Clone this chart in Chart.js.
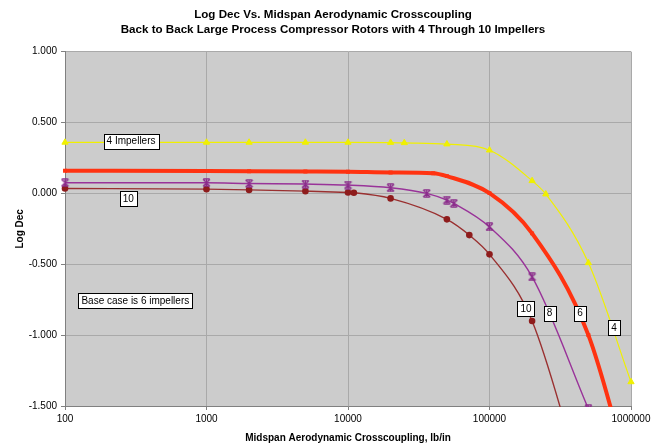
<!DOCTYPE html>
<html>
<head>
<meta charset="utf-8">
<script src="https://cdn.jsdelivr.net/npm/chart.js@4/dist/chart.umd.min.js"></script>
<style>
  html, body { margin: 0; padding: 0; background: #ffffff; }
  #wrap { width: 658px; height: 447px; }
</style>
</head>
<body>
<div id="wrap"><canvas id="c" width="658" height="447"></canvas></div>
<script>
// Log decrement vs. midspan aerodynamic cross-coupling (lb/in), one series per impeller count
const crosscoupling4 = [100, 1000, 2000, 5000, 10000, 20000, 25000, 50000, 100000, 200000, 250000, 500000, 1000000];
const logDec4 = [0.360, 0.360, 0.360, 0.360, 0.360, 0.359, 0.357, 0.348, 0.305, 0.089, -0.005, -0.490, -1.330];

const crosscoupling6 = [100, 1000, 2000, 5000, 10000, 20000, 40000, 50000, 100000, 200000, 500000, 1000000];
const logDec6 = [0.160, 0.158, 0.157, 0.155, 0.153, 0.148, 0.143, 0.122, 0.002, -0.282, -1.000, -2.030];

const crosscoupling8 = [100, 1000, 2000, 5000, 10000, 20000, 36000, 50000, 56000, 100000, 200000, 500000];
const logDec8 = [0.075, 0.075, 0.070, 0.066, 0.059, 0.040, 0.000, -0.047, -0.070, -0.236, -0.589, -1.520];

const crosscoupling10 = [100, 1000, 2000, 5000, 10000, 11000, 20000, 50000, 72000, 100000, 200000, 500000];
const logDec10 = [0.035, 0.030, 0.025, 0.016, 0.007, 0.005, -0.035, -0.183, -0.294, -0.430, -0.900, -2.200];

const xTicks = [100, 1000, 10000, 100000, 1000000];
const yTicks = [1.0, 0.5, 0.0, -0.5, -1.0, -1.5];

const titleLines = [
  'Log Dec Vs. Midspan Aerodynamic Crosscoupling',
  'Back to Back Large Process Compressor Rotors with 4 Through 10 Impellers'
];

// Boxed text notes, anchored in data units (crosscoupling, log dec)
const notes = [
  { text: '4 Impellers', x: 293, y: 0.369 },
  { text: '10', x: 280, y: -0.035 },
  { text: 'Base case is 6 impellers', x: 314, y: -0.754 },
  { text: '10', x: 181000, y: -0.814 },
  { text: '8', x: 265500, y: -0.845 },
  { text: '6', x: 436000, y: -0.845 },
  { text: '4', x: 758000, y: -0.947 }
];

const FONT = "'Liberation Sans', Arial, sans-serif";

function pairs(xs, ys) {
  return xs.map((x, i) => ({ x: x, y: ys[i] }));
}

// Asterisk-style marker (diagonal cross plus vertical stroke)
function starMarker(color) {
  const s = 9;
  const cv = document.createElement('canvas');
  cv.width = s; cv.height = s;
  const g = cv.getContext('2d');
  g.strokeStyle = color;
  g.lineWidth = 1.2;
  g.beginPath();
  g.moveTo(1, 1); g.lineTo(s - 1, s - 1);
  g.moveTo(s - 1, 1); g.lineTo(1, s - 1);
  g.moveTo(s / 2, 0.5); g.lineTo(s / 2, s - 0.5);
  g.moveTo(1.5, 0.8); g.lineTo(s - 1.5, 0.8);
  g.moveTo(1.5, s - 0.8); g.lineTo(s - 1.5, s - 0.8);
  g.stroke();
  return cv;
}

const plotBackground = {
  id: 'plotBackground',
  beforeDraw(chart) {
    const { ctx, chartArea: a } = chart;
    ctx.save();
    ctx.fillStyle = '#cccccc';
    ctx.fillRect(a.left, a.top, a.right - a.left, a.bottom - a.top);
    ctx.restore();
  }
};

// Two-line heading, centred over the page a little right of the plot centre
const heading = {
  id: 'heading',
  afterDraw(chart) {
    const { ctx } = chart;
    ctx.save();
    ctx.fillStyle = '#000000';
    ctx.font = 'bold 11.6px ' + FONT;
    ctx.textAlign = 'center';
    ctx.textBaseline = 'middle';
    ctx.fillText(titleLines[0], 333, 15);
    ctx.fillText(titleLines[1], 333, 30);
    ctx.restore();
  }
};

const noteBoxes = {
  id: 'noteBoxes',
  afterDatasetsDraw(chart) {
    const { ctx, scales } = chart;
    ctx.save();
    ctx.font = '10px ' + FONT;
    ctx.textAlign = 'center';
    ctx.textBaseline = 'middle';
    notes.forEach(n => {
      const cx = scales.x.getPixelForValue(n.x);
      const cy = scales.y.getPixelForValue(n.y);
      const w = Math.round(ctx.measureText(n.text).width + 6);
      const h = 15;
      const left = Math.round(cx - w / 2) + 0.5;
      const top = Math.round(cy - h / 2) + 0.5;
      ctx.fillStyle = '#ffffff';
      ctx.fillRect(left, top, w, h);
      ctx.strokeStyle = '#000000';
      ctx.lineWidth = 1;
      ctx.strokeRect(left, top, w, h);
      ctx.fillStyle = '#000000';
      ctx.fillText(n.text, cx, cy + 0.5);
    });
    ctx.restore();
  }
};

const clipBox = { left: 8, top: 8, right: 8, bottom: 1 };

new Chart(document.getElementById('c'), {
  type: 'line',
  data: {
    datasets: [
      {
        label: '4 Impellers',
        data: pairs(crosscoupling4, logDec4),
        borderColor: '#f0f000',
        backgroundColor: '#f0f000',
        borderWidth: 1.2,
        pointStyle: 'triangle',
        pointRadius: 3.6,
        pointBorderWidth: 1,
        clip: clipBox
      },
      {
        label: '6 Impellers',
        data: pairs(crosscoupling6, logDec6),
        borderColor: '#ff3311',
        backgroundColor: '#ff3311',
        borderWidth: 4,
        pointStyle: 'rect',
        pointRadius: 2.8,
        pointBorderWidth: 0,
        clip: clipBox
      },
      {
        label: '8 Impellers',
        data: pairs(crosscoupling8, logDec8),
        borderColor: '#993399',
        backgroundColor: '#993399',
        borderWidth: 1.4,
        pointStyle: starMarker('#8a2c8a'),
        pointRadius: 4,
        clip: clipBox
      },
      {
        label: '10 Impellers',
        data: pairs(crosscoupling10, logDec10),
        borderColor: '#9a3030',
        backgroundColor: '#8e1c1c',
        borderWidth: 1.4,
        pointStyle: 'circle',
        pointRadius: 3.3,
        pointBorderWidth: 0,
        clip: clipBox
      }
    ]
  },
  options: {
    responsive: false,
    animation: false,
    devicePixelRatio: 1,
    cubicInterpolationMode: 'monotone',
    layout: { padding: { left: 0, right: 27, top: 51.7, bottom: 0 } },
    plugins: {
      legend: { display: false },
      tooltip: { enabled: false },
      title: { display: false }
    },
    scales: {
      x: {
        type: 'logarithmic',
        min: 100,
        max: 1000000,
        afterBuildTicks(scale) {
          scale.ticks = xTicks.map(v => ({ value: v }));
        },
        afterFit(scale) { scale.height = 41; },
        ticks: {
          color: '#000000',
          font: { family: FONT, size: 10 },
          padding: 3,
          maxRotation: 0,
          autoSkip: false,
          callback: v => String(v)
        },
        grid: { color: '#a9a9a9', lineWidth: 1, tickLength: 4, tickColor: '#808080' },
        border: { color: '#808080', width: 1 },
        title: {
          display: true,
          text: 'Midspan Aerodynamic Crosscoupling, lb/in',
          color: '#000000',
          font: { family: FONT, size: 10, weight: 'bold', lineHeight: 1.2 },
          padding: { top: 0, bottom: 3 }
        }
      },
      y: {
        min: -1.5,
        max: 1.0,
        afterBuildTicks(scale) {
          scale.ticks = yTicks.map(v => ({ value: v }));
        },
        afterFit(scale) { scale.width = 65; },
        ticks: {
          color: '#000000',
          font: { family: FONT, size: 10 },
          padding: 4,
          callback: v => Number(v).toFixed(3)
        },
        grid: { color: '#a9a9a9', lineWidth: 1, tickLength: 4, tickColor: '#808080' },
        border: { color: '#808080', width: 1 },
        title: {
          display: true,
          text: 'Log Dec',
          color: '#000000',
          font: { family: FONT, size: 10, weight: 'bold', lineHeight: 1.2 },
          padding: { top: 14, bottom: 0 }
        }
      }
    }
  },
  plugins: [plotBackground, noteBoxes, heading]
});
</script>
</body>
</html>
